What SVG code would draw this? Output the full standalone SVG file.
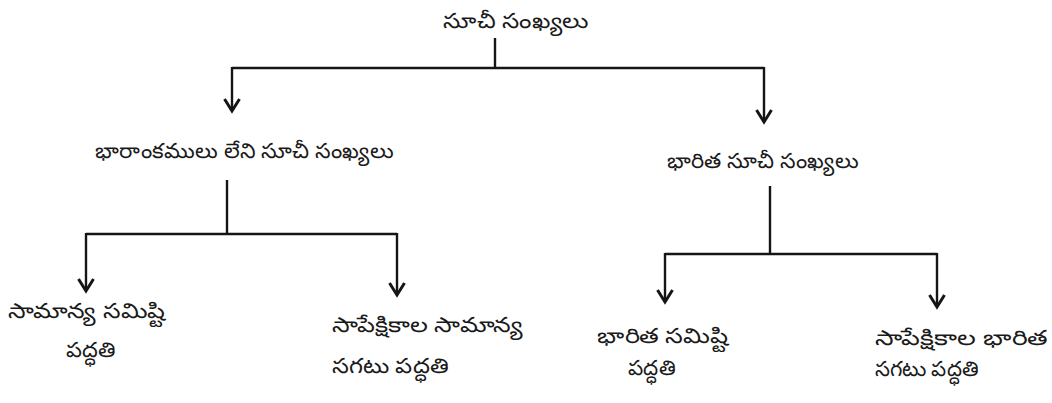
<svg xmlns="http://www.w3.org/2000/svg" width="1052" height="403" viewBox="0 0 1052 403">
  <style>
    .lbl { font-family: "Noto Sans", "Liberation Sans", sans-serif; font-size: 21px; fill: #1a1a1a; }
    .ln { stroke: #151515; stroke-width: 2.4; fill: none; }
  </style>
  <defs>
    <!-- open chevron arrowhead, pointing along the path -->
    <marker id="arr" viewBox="-1 -1 16 18" refX="13" refY="8" markerWidth="16" markerHeight="18" markerUnits="userSpaceOnUse" orient="auto" overflow="visible">
      <path d="M1,0.5 L13,8 L1,15.5" fill="none" stroke="#151515" stroke-width="3" stroke-linejoin="miter"/>
    </marker>
  </defs>
  <rect width="1052" height="403" fill="#fff"/>

  <g id="connectors">
    <path class="ln" d="M495,38 V68"/>
    <path class="ln" d="M232,68 H764"/>
    <path class="ln" d="M232,67 V111" marker-end="url(#arr)"/>
    <path class="ln" d="M764,67 V122" marker-end="url(#arr)"/>
    <path class="ln" d="M227,180 V234"/>
    <path class="ln" d="M86,234 H397"/>
    <path class="ln" d="M86,233 V291" marker-end="url(#arr)"/>
    <path class="ln" d="M397,233 V295" marker-end="url(#arr)"/>
    <path class="ln" d="M770,186 V254"/>
    <path class="ln" d="M665,254 H937"/>
    <path class="ln" d="M665,253 V302" marker-end="url(#arr)"/>
    <path class="ln" d="M937,253 V307" marker-end="url(#arr)"/>
  </g>

  <g id="root">
    <text class="lbl" x="443" y="28" textLength="145" lengthAdjust="spacingAndGlyphs">సూచీ సంఖ్యలు</text>
  </g>
  <g id="unweighted">
    <text class="lbl" x="95" y="158" textLength="298" lengthAdjust="spacingAndGlyphs">భారాంకములు లేని సూచీ సంఖ్యలు</text>
  </g>
  <g id="weighted">
    <text class="lbl" x="667" y="168" textLength="191" lengthAdjust="spacingAndGlyphs">భారిత సూచీ సంఖ్యలు</text>
  </g>
  <g id="simple-aggregate">
    <text class="lbl" x="8" y="318" textLength="157" lengthAdjust="spacingAndGlyphs">సామాన్య సమిష్టి</text>
    <text class="lbl" x="66" y="357" textLength="49" lengthAdjust="spacingAndGlyphs">పద్ధతి</text>
  </g>
  <g id="simple-average-relatives">
    <text class="lbl" x="332" y="332" textLength="191" lengthAdjust="spacingAndGlyphs">సాపేక్షికాల సామాన్య</text>
    <text class="lbl" x="332" y="373" textLength="116" lengthAdjust="spacingAndGlyphs">సగటు పద్ధతి</text>
  </g>
  <g id="weighted-aggregate">
    <text class="lbl" x="597" y="343" textLength="131" lengthAdjust="spacingAndGlyphs">భారిత సమిష్టి</text>
    <text class="lbl" x="628" y="375" textLength="47" lengthAdjust="spacingAndGlyphs">పద్ధతి</text>
  </g>
  <g id="weighted-average-relatives">
    <text class="lbl" x="875" y="345" textLength="172" lengthAdjust="spacingAndGlyphs">సాపేక్షికాల భారిత</text>
    <text class="lbl" x="875" y="376" textLength="103" lengthAdjust="spacingAndGlyphs">సగటు పద్ధతి</text>
  </g>
</svg>
